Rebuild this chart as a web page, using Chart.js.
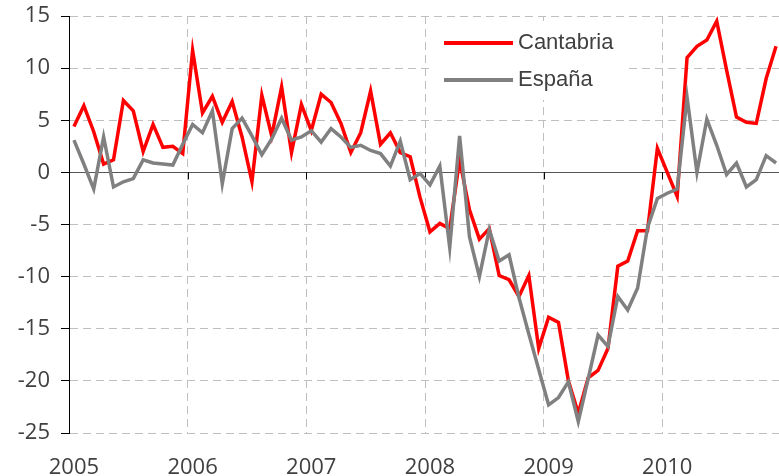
<!DOCTYPE html>
<html>
<head>
<meta charset="utf-8">
<script src="https://cdn.jsdelivr.net/npm/chart.js@4"></script>
<style>
  html, body { margin: 0; padding: 0; background: #fff; overflow: hidden; }
  #wrap { width: 779px; height: 476px; overflow: hidden; }
</style>
</head>
<body>
<div id="wrap"><canvas id="chart" width="781" height="476"></canvas></div>
<script>
// Serie mensual enero 2005 - diciembre 2010
const years = ['2005', '2006', '2007', '2008', '2009', '2010'];

const cantabria = [
    4.4, 6.4, 3.9, 0.8, 1.2, 6.9, 5.9, 2.0, 4.6, 2.4, 2.5, 1.8,
    11.7, 5.7, 7.3, 4.8, 6.8, 3.4, -0.9, 7.4, 3.5, 8.2, 1.9, 6.5,
    4.0, 7.5, 6.7, 4.7, 1.9, 3.8, 7.8, 2.7, 3.8, 1.9, 1.5, -2.4,
    -5.7, -4.9, -5.4, 1.2, -3.6, -6.4, -5.4, -9.9, -10.3, -11.9, -9.9, -16.9,
    -13.9, -14.4, -20.0, -23.1, -19.7, -19.0, -16.9, -9.0, -8.5, -5.6, -5.6, 2.3,
    0.0, -2.3, 11.0, 12.1, 12.7, 14.5, 9.8, 5.3, 4.8, 4.7, 9.0, 12.1
];

const espana = [
    3.1, 0.8, -1.6, 3.4, -1.4, -0.9, -0.6, 1.2, 0.9, 0.8, 0.7, 2.7,
    4.6, 3.8, 5.9, -1.1, 4.2, 5.2, 3.5, 1.7, 3.2, 5.2, 3.1, 3.4,
    4.0, 2.9, 4.2, 3.4, 2.4, 2.6, 2.1, 1.8, 0.6, 3.0, -0.7, -0.1,
    -1.2, 0.6, -7.2, 3.5, -6.2, -10.0, -5.5, -8.5, -7.9, -12.0, -15.5, -18.9,
    -22.3, -21.6, -20.1, -23.9, -19.8, -15.6, -16.7, -11.9, -13.2, -11.1, -5.3, -2.5,
    -2.0, -1.6, 7.2, 0.0, 5.1, 2.6, -0.2, 0.9, -1.4, -0.7, 1.6, 0.9
];

const yMin = -25;
const yMax = 15;
const yStep = 5;

const months = years.flatMap(y => Array.from({ length: 12 }, (_, m) => y + '-' + (m + 1)));

const textColor = '#404040';
const gridColor = '#bfbfbf';
const tickFont = { family: 'Open Sans', size: 22 };

// marcas de año sobre la línea de cero
const yearTicks = {
    id: 'yearTicks',
    beforeDatasetsDraw(chart) {
        const { ctx, scales: { x, y } } = chart;
        const half = (x.getPixelForValue(1) - x.getPixelForValue(0)) / 2;
        const y0 = y.getPixelForValue(0);
        ctx.save();
        ctx.strokeStyle = '#000';
        ctx.lineWidth = 1;
        ctx.beginPath();
        for (let i = 12; i < months.length; i += 12) {
            const px = Math.round(x.getPixelForValue(i) - half) + 0.5;
            ctx.moveTo(px, y0);
            ctx.lineTo(px, y0 + 7);
        }
        ctx.stroke();
        ctx.restore();
    }
};

// leyenda dentro del área del gráfico
const insideLegend = {
    id: 'insideLegend',
    afterDatasetsDraw(chart) {
        const ctx = chart.ctx;
        ctx.save();
        ctx.fillStyle = '#fff';
        ctx.fillRect(430, 21, 199, 79);
        chart.data.datasets.forEach((ds, i) => {
            const ly = 43 + i * 37;
            ctx.strokeStyle = ds.borderColor;
            ctx.lineWidth = 4;
            ctx.beginPath();
            ctx.moveTo(444, ly);
            ctx.lineTo(513, ly);
            ctx.stroke();
            ctx.fillStyle = textColor;
            ctx.font = '22px "Liberation Sans", Arial, sans-serif';
            ctx.textBaseline = 'middle';
            ctx.fillText(ds.label, 518, ly);
        });
        ctx.restore();
    }
};

new Chart(document.getElementById('chart'), {
    type: 'line',
    data: {
        labels: months,
        datasets: [{
            label: 'Cantabria',
            data: cantabria,
            borderColor: '#ff0000',
            borderWidth: 3.5,
            pointRadius: 0,
            tension: 0,
            order: 1
        }, {
            label: 'España',
            data: espana,
            borderColor: '#808080',
            borderWidth: 3.5,
            pointRadius: 0,
            tension: 0,
            order: 0
        }]
    },
    options: {
        responsive: false,
        animation: false,
        layout: { padding: { top: 16, right: 0, bottom: 0, left: 0 } },
        plugins: {
            legend: { display: false },
            tooltip: { enabled: false }
        },
        scales: {
            x: {
                type: 'category',
                offset: true,
                grid: {
                    offset: true,
                    drawTicks: false,
                    color: c => c.index % 12 === 0 ? gridColor : 'transparent'
                },
                border: { display: false, dash: [8, 5] },
                ticks: {
                    autoSkip: false,
                    maxRotation: 0,
                    padding: 22,
                    color: textColor,
                    font: tickFont,
                    callback: (v, i) => i % 12 === 0 ? years[i / 12] : ''
                },
                afterFit: s => {
                    s.height = 43;
                    s.paddingLeft = 0;
                    s.paddingRight = 0;
                }
            },
            y: {
                min: yMin,
                max: yMax,
                ticks: {
                    stepSize: yStep,
                    padding: 11,
                    color: textColor,
                    font: tickFont
                },
                grid: {
                    color: c => c.tick && c.tick.value === 0 ? '#555' : gridColor,
                    tickColor: '#000',
                    tickLength: 8,
                    tickBorderDash: []
                },
                border: {
                    color: '#000',
                    width: 1,
                    dash: c => c.tick && c.tick.value !== 0 ? [8, 5] : []
                },
                afterFit: s => {
                    s.width = 69;
                    s.paddingTop = 0;
                    s.paddingBottom = 0;
                }
            }
        }
    },
    plugins: [yearTicks, insideLegend]
});
</script>
</body>
</html>
